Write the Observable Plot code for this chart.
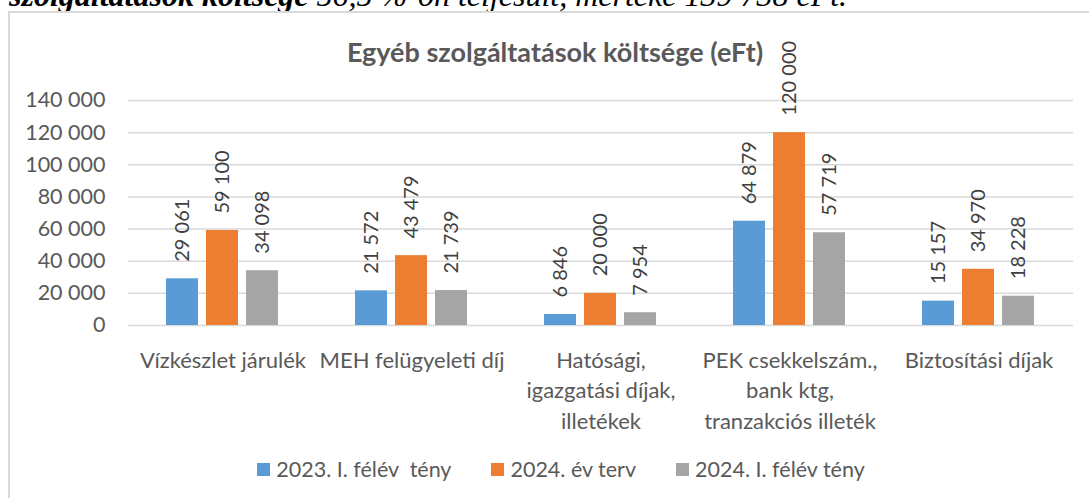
<!DOCTYPE html>
<html>
<head>
<meta charset="utf-8">
<script src="https://cdn.jsdelivr.net/npm/d3@7"></script>
<script src="https://cdn.jsdelivr.net/npm/@observablehq/plot@0.6"></script>
<style>
  html, body { margin: 0; padding: 0; background: #fff; width: 1089px; height: 498px; overflow: hidden; }
  #page { position: relative; width: 1089px; height: 498px; overflow: hidden; }
  #lead { position: absolute; left: 9px; top: -21px; font-family: "Liberation Serif", serif; font-style: italic; font-size: 32px; line-height: 32px; color: #000; white-space: nowrap; }
  #frame { position: absolute; left: 8px; top: 11px; width: 1200px; height: 600px; border: 2px solid #d9d9d9; box-sizing: border-box; }
  #title { position: absolute; left: 0; width: 1110px; top: 35px; text-align: center; font-family: Lato, sans-serif; font-weight: bold; font-size: 27px; color: #595959; white-space: nowrap; }
  #chart { position: absolute; left: 0; top: 0; }
  #legend { position: absolute; left: 0; top: 456px; width: 1122px; display: flex; justify-content: center; gap: 40px; font-family: Lato, sans-serif; font-size: 21.5px; line-height: 26px; color: #595959; }
  .item { display: flex; align-items: center; white-space: pre; }
  .sw { width: 13px; height: 13px; margin-right: 6px; display: inline-block; }
</style>
</head>
<body>
<div id="page">
  <div id="lead"><b>szolgáltatások költsége</b> 56,5 %-on teljesült, mértéke 139 738 eFt.</div>
  <div id="frame"></div>
  <div id="chart"></div>
  <div id="title">Egyéb szolgáltatások költsége (eFt)</div>
  <div id="legend"></div>
</div>
<script>
const categories = [
  "Vízkészlet járulék",
  "MEH felügyeleti díj",
  "Hatósági,\nigazgatási díjak,\nilletékek",
  "PEK csekkelszám.,\nbank ktg,\ntranzakciós illeték",
  "Biztosítási díjak"
];
const series = ["2023. I. félév  tény", "2024. év terv", "2024. I. félév tény"];
const fact2023H1 = [29061, 21572, 6846, 64879, 15157];
const plan2024 = [59100, 43479, 20000, 120000, 34970];
const fact2024H1 = [34098, 21739, 7954, 57719, 18228];
const yTicks = [0, 20000, 40000, 60000, 80000, 100000, 120000, 140000];
const colors = ["#5B9BD5", "#ED7D31", "#A5A5A5"];

const seriesValues = [fact2023H1, plan2024, fact2024H1];
const data = [];
categories.forEach((c, i) => {
  series.forEach((s, j) => data.push({cat: c, series: s, value: seriesValues[j][i]}));
});

const fmt = d3.formatLocale({decimal: ",", thousands: " ", grouping: [3], currency: ["", ""]}).format(",d");

const chart = Plot.plot({
  width: 1089,
  height: 440,
  marginLeft: 127,
  marginRight: 16,
  marginTop: 100,
  marginBottom: 115,
  fx: {domain: categories, paddingInner: 0, paddingOuter: 0, axis: null},
  x: {domain: series, paddingInner: 0.195, paddingOuter: 0.905, axis: null},
  y: {domain: [0, 140000], axis: null},
  color: {domain: series, range: colors},
  style: {fontFamily: "Lato, sans-serif", fontSize: "20px", color: "#595959", background: "transparent", overflow: "visible"},
  marks: [
    Plot.ruleY(yTicks, {stroke: "#d9d9d9", strokeWidth: 1.5}),
    Plot.barY(data, {fx: "cat", x: "series", y: "value", fill: "series"}),
    Plot.text(data, {
      fx: "cat", x: "series", y: "value",
      text: d => fmt(d.value),
      rotate: -90, textAnchor: "start", dy: -17,
      fontSize: 20, fill: "#404040"
    }),
    Plot.axisY({ticks: yTicks, tickFormat: fmt, tickSize: 0, tickPadding: 23, label: null, fontSize: 21.5, fill: "#595959"}),
    Plot.axisFx({anchor: "bottom", tickSize: 0, tickPadding: 21, lineHeight: 1.38, label: null, fontSize: 22, fill: "#595959"})
  ]
});
document.getElementById("chart").appendChild(chart);

const legend = document.getElementById("legend");
series.forEach((s, i) => {
  const item = document.createElement("div");
  item.className = "item";
  const sw = document.createElement("span");
  sw.className = "sw";
  sw.style.background = colors[i];
  item.appendChild(sw);
  item.appendChild(document.createTextNode(s));
  legend.appendChild(item);
});
</script>
</body>
</html>
